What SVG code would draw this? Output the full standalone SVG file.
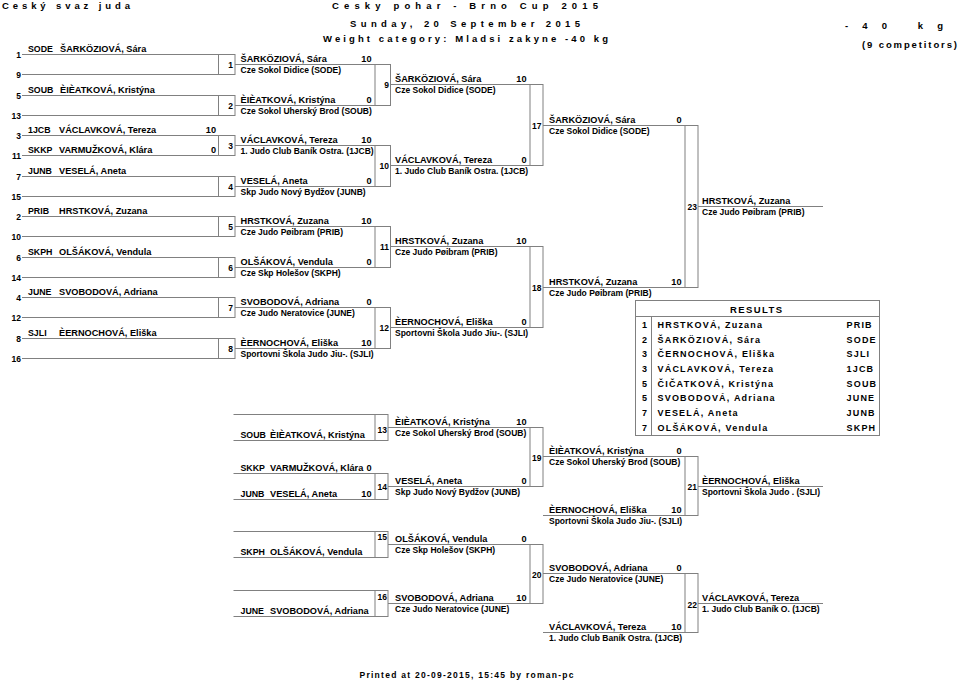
<svg xmlns="http://www.w3.org/2000/svg" width="959" height="683" viewBox="0 0 959 683">
<style>
text{font-family:"Liberation Sans",Arial,sans-serif;font-weight:bold;fill:#000}
.hd{font-size:9.5px}
.nm{font-size:9.2px}
.cd{font-size:8.8px}
.cl{font-size:8.5px}
.sc{font-size:9.2px;text-anchor:end}
.sd{font-size:8.5px;text-anchor:end}
.mn{font-size:8.5px;text-anchor:end}
.rs{font-size:9px;letter-spacing:1.2px}
.rk{font-size:9px;text-anchor:middle}
.ln{stroke:#808080;stroke-width:1;fill:none}
</style>
<rect width="959" height="683" fill="#fff"/>
<g id="header">
<text class="hd" x="2" y="8.5" textLength="128" lengthAdjust="spacing">Ceský svaz juda</text>
<text class="hd" x="332" y="9" textLength="266" lengthAdjust="spacing">Cesky pohar - Brno Cup 2015</text>
<text class="hd" x="350" y="26.5" textLength="230" lengthAdjust="spacing">Sunday, 20 September 2015</text>
<text class="hd" x="323" y="41.5" textLength="285" lengthAdjust="spacing">Weight category: Mladsi zakyne -40 kg</text>
<text class="hd" x="845" y="29" textLength="98" lengthAdjust="spacing">-40 kg</text>
<text class="hd" x="862" y="48" textLength="95" lengthAdjust="spacing">(9 competitors)</text>
</g>
<g id="connectors" class="ln">
<path d="M22 54.5H218.5M22 74.5H218.5M22 95.5H218.5M22 115.5H218.5M22 135.5H218.5M22 155.5H218.5M22 176.5H218.5M22 196.5H218.5M22 216.5H218.5M22 236.5H218.5M22 257.5H218.5M22 277.5H218.5M22 297.5H218.5M22 317.5H218.5M22 338.5H218.5M22 358.5H218.5"/>
<path d="M235 64.5H375M235 105.5H375M235 145.5H375M235 186.5H375M235 226.5H375M235 267.5H375M235 307.5H375M235 348.5H375"/>
<path d="M390.5 84.5H530M390.5 165.5H530M390.5 246.5H530M390.5 327.5H530"/>
<path d="M543 125.5H685M543 287.5H685M698 206.5H823"/>
<path d="M233.5 414.5H375M233.5 440.5H375M233.5 473.5H375M233.5 499.5H375M233.5 531.5H375M233.5 557.5H375M233.5 590.5H375M233.5 616.5H375"/>
<path d="M388 427.5H530M388 486.5H530M388 544.5H530M388 603.5H530"/>
<path d="M543 456.5H685M543 515.5H685M543 573.5H685M543 632.5H685"/>
<path d="M698 486.5H823M698 603.5H823"/>
</g>
<g id="seeds">
<text class="sd" x="21" y="57.5">1</text><text class="sd" x="21" y="77.5">9</text>
<text class="sd" x="21" y="98.5">5</text><text class="sd" x="21" y="118.5">13</text>
<text class="sd" x="21" y="138.5">3</text><text class="sd" x="21" y="158.5">11</text>
<text class="sd" x="21" y="179.5">7</text><text class="sd" x="21" y="199.5">15</text>
<text class="sd" x="21" y="219.5">2</text><text class="sd" x="21" y="239.5">10</text>
<text class="sd" x="21" y="260.5">6</text><text class="sd" x="21" y="280.5">14</text>
<text class="sd" x="21" y="300.5">4</text><text class="sd" x="21" y="320.5">12</text>
<text class="sd" x="21" y="341.5">8</text><text class="sd" x="21" y="361.5">16</text>
</g>
<g id="seed-1"><text class="cd" x="28" y="51.5">SODE</text><text class="nm" x="60" y="51.5">ŠARKÖZIOVÁ, Sára</text></g>
<g id="seed-5"><text class="cd" x="28" y="92.5">SOUB</text><text class="nm" x="60" y="92.5">ÈIÈATKOVÁ, Kristýna</text></g>
<g id="seed-3"><text class="cd" x="28" y="132.5">1JCB</text><text class="nm" x="59" y="132.5">VÁCLAVKOVÁ, Tereza</text><text class="sc" x="216" y="132.5">10</text></g>
<g id="seed-11"><text class="cd" x="28" y="152.5">SKKP</text><text class="nm" x="59" y="152.5">VARMUŽKOVÁ, Klára</text><text class="sc" x="216" y="152.5">0</text></g>
<g id="seed-7"><text class="cd" x="28" y="173.5">JUNB</text><text class="nm" x="59" y="173.5">VESELÁ, Aneta</text></g>
<g id="seed-2"><text class="cd" x="28" y="213.5">PRIB</text><text class="nm" x="59" y="213.5">HRSTKOVÁ, Zuzana</text></g>
<g id="seed-6"><text class="cd" x="28" y="254.5">SKPH</text><text class="nm" x="59" y="254.5">OLŠÁKOVÁ, Vendula</text></g>
<g id="seed-4"><text class="cd" x="28" y="294.5">JUNE</text><text class="nm" x="59" y="294.5">SVOBODOVÁ, Adriana</text></g>
<g id="seed-8"><text class="cd" x="28" y="335.5">SJLI</text><text class="nm" x="59" y="335.5">ÈERNOCHOVÁ, Eliška</text></g>
<g id="m1" class="ln"><rect x="218.5" y="54.5" width="16.5" height="20"/></g><text class="mn" x="233" y="67.5">1</text>
<g id="m2" class="ln"><rect x="218.5" y="95.5" width="16.5" height="20"/></g><text class="mn" x="233" y="108.5">2</text>
<g id="m3" class="ln"><rect x="218.5" y="135.5" width="16.5" height="20"/></g><text class="mn" x="233" y="148.5">3</text>
<g id="m4" class="ln"><rect x="218.5" y="176.5" width="16.5" height="20"/></g><text class="mn" x="233" y="189.5">4</text>
<g id="m5" class="ln"><rect x="218.5" y="216.5" width="16.5" height="20"/></g><text class="mn" x="233" y="229.5">5</text>
<g id="m6" class="ln"><rect x="218.5" y="257.5" width="16.5" height="20"/></g><text class="mn" x="233" y="270.5">6</text>
<g id="m7" class="ln"><rect x="218.5" y="297.5" width="16.5" height="20"/></g><text class="mn" x="233" y="310.5">7</text>
<g id="m8" class="ln"><rect x="218.5" y="338.5" width="16.5" height="20"/></g><text class="mn" x="233" y="351.5">8</text>
<g id="m9" class="ln"><rect x="375" y="64.5" width="15.5" height="41"/></g><text class="mn" x="389" y="88">9</text>
<g id="m10" class="ln"><rect x="375" y="145.5" width="15.5" height="41"/></g><text class="mn" x="389" y="169">10</text>
<g id="m11" class="ln"><rect x="375" y="226.5" width="15.5" height="41"/></g><text class="mn" x="389" y="250">11</text>
<g id="m12" class="ln"><rect x="375" y="307.5" width="15.5" height="41"/></g><text class="mn" x="389" y="331">12</text>
<g id="m17" class="ln"><rect x="530" y="84.5" width="13" height="81"/></g><text class="mn" x="541.5" y="128.5">17</text>
<g id="m18" class="ln"><rect x="530" y="246.5" width="13" height="81"/></g><text class="mn" x="541.5" y="290.5">18</text>
<g id="m23" class="ln"><rect x="685" y="125.5" width="13" height="162"/></g><text class="mn" x="697" y="210">23</text>
<g id="m13" class="ln"><rect x="375" y="414.5" width="13" height="26"/></g><text class="mn" x="387" y="432.5">13</text>
<g id="m14" class="ln"><rect x="375" y="473.5" width="13" height="26"/></g><text class="mn" x="387" y="490">14</text>
<g id="m15" class="ln"><rect x="375" y="531.5" width="13" height="26"/></g><text class="mn" x="387" y="540">15</text>
<g id="m16" class="ln"><rect x="375" y="590.5" width="13" height="26"/></g><text class="mn" x="387" y="599.5">16</text>
<g id="m19" class="ln"><rect x="530" y="427.5" width="13" height="59"/></g><text class="mn" x="541.5" y="460.5">19</text>
<g id="m20" class="ln"><rect x="530" y="544.5" width="13" height="59"/></g><text class="mn" x="541.5" y="577.5">20</text>
<g id="m21" class="ln"><rect x="685" y="456.5" width="13" height="59"/></g><text class="mn" x="697" y="490">21</text>
<g id="m22" class="ln"><rect x="685" y="573.5" width="13" height="59"/></g><text class="mn" x="697" y="607.5">22</text>
<g id="r2">
<text class="nm" x="240.5" y="62">ŠARKÖZIOVÁ, Sára</text><text class="sc" x="371.5" y="62">10</text><text class="cl" x="240.5" y="72.5">Cze Sokol Didice (SODE)</text>
<text class="nm" x="240.5" y="103">ÈIÈATKOVÁ, Kristýna</text><text class="sc" x="371.5" y="103">0</text><text class="cl" x="240.5" y="113.5">Cze Sokol Uherský Brod (SOUB)</text>
<text class="nm" x="240.5" y="143">VÁCLAVKOVÁ, Tereza</text><text class="sc" x="371.5" y="143">10</text><text class="cl" x="240.5" y="153.5">1. Judo Club Baník Ostra. (1JCB)</text>
<text class="nm" x="240.5" y="184">VESELÁ, Aneta</text><text class="sc" x="371.5" y="184">0</text><text class="cl" x="240.5" y="194.5">Skp Judo Nový Bydžov (JUNB)</text>
<text class="nm" x="240.5" y="224">HRSTKOVÁ, Zuzana</text><text class="sc" x="371.5" y="224">10</text><text class="cl" x="240.5" y="234.5">Cze Judo Pøibram (PRIB)</text>
<text class="nm" x="240.5" y="265">OLŠÁKOVÁ, Vendula</text><text class="sc" x="371.5" y="265">0</text><text class="cl" x="240.5" y="275.5">Cze Skp Holešov (SKPH)</text>
<text class="nm" x="240.5" y="305">SVOBODOVÁ, Adriana</text><text class="sc" x="371.5" y="305">0</text><text class="cl" x="240.5" y="315.5">Cze Judo Neratovice (JUNE)</text>
<text class="nm" x="240.5" y="346">ÈERNOCHOVÁ, Eliška</text><text class="sc" x="371.5" y="346">10</text><text class="cl" x="240.5" y="356.5">Sportovni Škola Judo Jiu-. (SJLI)</text>
</g>
<g id="r3">
<text class="nm" x="395" y="82">ŠARKÖZIOVÁ, Sára</text><text class="sc" x="526.5" y="82">10</text><text class="cl" x="395" y="92.5">Cze Sokol Didice (SODE)</text>
<text class="nm" x="395" y="163">VÁCLAVKOVÁ, Tereza</text><text class="sc" x="526.5" y="163">0</text><text class="cl" x="395" y="173.5">1. Judo Club Baník Ostra. (1JCB)</text>
<text class="nm" x="395" y="244">HRSTKOVÁ, Zuzana</text><text class="sc" x="526.5" y="244">10</text><text class="cl" x="395" y="254.5">Cze Judo Pøibram (PRIB)</text>
<text class="nm" x="395" y="325">ÈERNOCHOVÁ, Eliška</text><text class="sc" x="526.5" y="325">0</text><text class="cl" x="395" y="335.5">Sportovni Škola Judo Jiu-. (SJLI)</text>
</g>
<g id="r4">
<text class="nm" x="549" y="123">ŠARKÖZIOVÁ, Sára</text><text class="sc" x="681.5" y="123">0</text><text class="cl" x="549" y="133.5">Cze Sokol Didice (SODE)</text>
<text class="nm" x="549" y="285">HRSTKOVÁ, Zuzana</text><text class="sc" x="681.5" y="285">10</text><text class="cl" x="549" y="295.5">Cze Judo Pøibram (PRIB)</text>
</g>
<g id="winner">
<text class="nm" x="702" y="204">HRSTKOVÁ, Zuzana</text><text class="cl" x="702" y="214.5">Cze Judo Pøibram (PRIB)</text>
</g>
<g id="rep-entries">
<text class="cd" x="240.5" y="437.5">SOUB</text><text class="nm" x="270" y="437.5">ÈIÈATKOVÁ, Kristýna</text>
<text class="cd" x="240.5" y="470.5">SKKP</text><text class="nm" x="270" y="470.5">VARMUŽKOVÁ, Klára</text><text class="sc" x="371.5" y="470.5">0</text>
<text class="cd" x="240.5" y="496.5">JUNB</text><text class="nm" x="270" y="496.5">VESELÁ, Aneta</text><text class="sc" x="371.5" y="496.5">10</text>
<text class="cd" x="240.5" y="554.5">SKPH</text><text class="nm" x="270" y="554.5">OLŠÁKOVÁ, Vendula</text>
<text class="cd" x="240.5" y="613.5">JUNE</text><text class="nm" x="270" y="613.5">SVOBODOVÁ, Adriana</text>
</g>
<g id="rep-r2">
<text class="nm" x="395" y="425">ÈIÈATKOVÁ, Kristýna</text><text class="sc" x="526.5" y="425">10</text><text class="cl" x="395" y="435.5">Cze Sokol Uherský Brod (SOUB)</text>
<text class="nm" x="395" y="484">VESELÁ, Aneta</text><text class="sc" x="526.5" y="484">0</text><text class="cl" x="395" y="494.5">Skp Judo Nový Bydžov (JUNB)</text>
<text class="nm" x="395" y="542">OLŠÁKOVÁ, Vendula</text><text class="sc" x="526.5" y="542">0</text><text class="cl" x="395" y="552.5">Cze Skp Holešov (SKPH)</text>
<text class="nm" x="395" y="601">SVOBODOVÁ, Adriana</text><text class="sc" x="526.5" y="601">10</text><text class="cl" x="395" y="611.5">Cze Judo Neratovice (JUNE)</text>
</g>
<g id="rep-r3">
<text class="nm" x="549" y="454">ÈIÈATKOVÁ, Kristýna</text><text class="sc" x="681.5" y="454">0</text><text class="cl" x="549" y="464.5">Cze Sokol Uherský Brod (SOUB)</text>
<text class="nm" x="549" y="513">ÈERNOCHOVÁ, Eliška</text><text class="sc" x="681.5" y="513">10</text><text class="cl" x="549" y="523.5">Sportovni Škola Judo Jiu-. (SJLI)</text>
<text class="nm" x="549" y="571">SVOBODOVÁ, Adriana</text><text class="sc" x="681.5" y="571">0</text><text class="cl" x="549" y="581.5">Cze Judo Neratovice (JUNE)</text>
<text class="nm" x="549" y="630">VÁCLAVKOVÁ, Tereza</text><text class="sc" x="681.5" y="630">10</text><text class="cl" x="549" y="640.5">1. Judo Club Baník Ostra. (1JCB)</text>
</g>
<g id="bronze">
<text class="nm" x="702" y="484">ÈERNOCHOVÁ, Eliška</text><text class="cl" x="702" y="494.5">Sportovni Škola Judo . (SJLI)</text>
<text class="nm" x="702" y="601">VÁCLAVKOVÁ, Tereza</text><text class="cl" x="702" y="611.5">1. Judo Club Baník O. (1JCB)</text>
</g>
<g id="results">
<rect class="ln" x="635.5" y="300.5" width="244" height="135"/>
<path class="ln" d="M635.5 316.5H879.5M651.5 316.5V435.5"/>
<text class="hd" x="730" y="313" textLength="52" lengthAdjust="spacing">RESULTS</text>
<text class="rk" x="644.5" y="328">1</text><text class="rs" x="657.5" y="328">HRSTKOVÁ, Zuzana</text><text class="rs" x="846.5" y="328">PRIB</text>
<text class="rk" x="644.5" y="342.5">2</text><text class="rs" x="657.5" y="342.5">ŠARKÖZIOVÁ, Sára</text><text class="rs" x="846.5" y="342.5">SODE</text>
<text class="rk" x="644.5" y="357">3</text><text class="rs" x="657.5" y="357">ČERNOCHOVÁ, Eliška</text><text class="rs" x="846.5" y="357">SJLI</text>
<text class="rk" x="644.5" y="372">3</text><text class="rs" x="657.5" y="372">VÁCLAVKOVÁ, Tereza</text><text class="rs" x="846.5" y="372">1JCB</text>
<text class="rk" x="644.5" y="386.5">5</text><text class="rs" x="657.5" y="386.5">ČIČATKOVÁ, Kristýna</text><text class="rs" x="846.5" y="386.5">SOUB</text>
<text class="rk" x="644.5" y="401">5</text><text class="rs" x="657.5" y="401">SVOBODOVÁ, Adriana</text><text class="rs" x="846.5" y="401">JUNE</text>
<text class="rk" x="644.5" y="416">7</text><text class="rs" x="657.5" y="416">VESELÁ, Aneta</text><text class="rs" x="846.5" y="416">JUNB</text>
<text class="rk" x="644.5" y="430.5">7</text><text class="rs" x="657.5" y="430.5">OLŠÁKOVÁ, Vendula</text><text class="rs" x="846.5" y="430.5">SKPH</text>
</g>
<g id="footer">
<text class="cl" x="359.5" y="678" textLength="214" lengthAdjust="spacing">Printed at 20-09-2015, 15:45 by roman-pc</text>
</g>
</svg>
